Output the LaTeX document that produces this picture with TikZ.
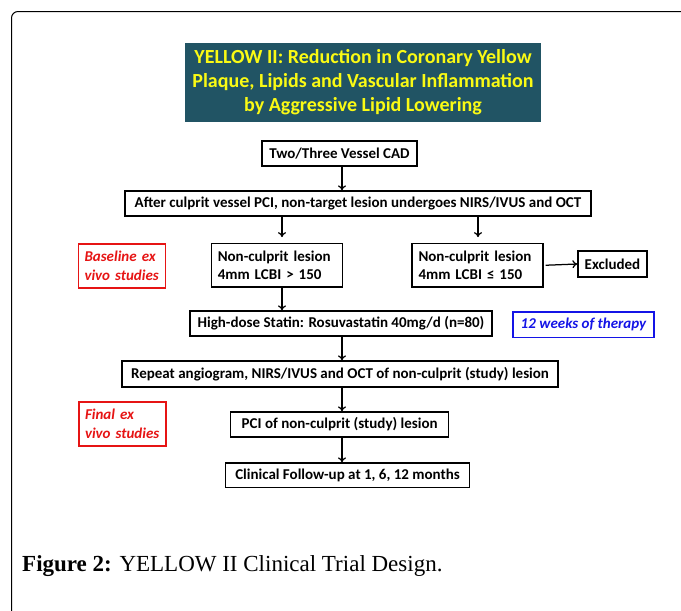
\documentclass[tikz,border=0pt]{standalone}
\usepackage{fontspec}
\setmainfont{Carlito}
\newfontfamily\capf{Liberation Serif}
\usetikzlibrary{arrows.meta}
\definecolor{teal}{RGB}{33,84,100}
\definecolor{ttl}{RGB}{250,250,20}
\definecolor{rd}{RGB}{230,20,20}
\definecolor{bl}{RGB}{20,20,230}
\tikzset{
  bx/.style={draw, line width=1.25pt, inner sep=0pt, font=\fontsize{15}{18}\selectfont\bfseries},
  lbx/.style={bx, align=left},
  rbx/.style={draw=rd, line width=1.5pt, inner sep=0pt, text=rd, align=left,
     font=\fontsize{15}{18.5}\selectfont\bfseries\itshape},
  arr/.style={-{To[length=5pt,width=8pt]}, line width=1.25pt},
}
\begin{document}
\begin{tikzpicture}[x=1pt,y=-1pt]
\useasboundingbox (0,0) rectangle (681,611);
% outer frame
\draw[line width=1pt, rounded corners=6.5pt] (11.5,700) -- (11.5,11.5) -- (700,11.5);
% title
\node[fill=teal, text=ttl, minimum width=356, minimum height=79, inner sep=0pt, align=center,
  font=\fontsize{20}{24}\selectfont\bfseries] (title) at (363,82.5)
  {YELLOW II: Reduction in Coronary Yellow\\Plaque, Lipids and Vascular Inflammation\\by Aggressive Lipid Lowering};
% boxes
\node[bx, minimum width=155, minimum height=25] (cad) at (339.5,153.5) {Two/Three Vessel CAD};
\node[bx, minimum width=466, minimum height=25] (pci) at (358,203.5) {After culprit vessel PCI, non-target lesion undergoes NIRS/IVUS and OCT};
\node[lbx, minimum height=43.5, text width=118, inner xsep=6.5pt] (ncl) at (276.75,265.25) {\mbox{Non-culprit lesion}\\\mbox{4mm LCBI > 150}};
\node[lbx, minimum height=43.5, text width=118, inner xsep=6.5pt] (ncr) at (477.5,265.25) {\mbox{Non-culprit lesion}\\\mbox{4mm LCBI ≤ 150}};
\node[bx, minimum width=69, minimum height=26] (exc) at (612.5,264) {Excluded};
\node[rbx, minimum height=44, text width=75, inner xsep=6pt] (base) at (122,266) {\mbox{Baseline ex}\\\mbox{vivo studies}};
\node[bx, minimum width=302, minimum height=25] (stat) at (341,323.5) {High-dose Statin: Rosuvastatin 40mg/d (n=80)};
\node[draw=bl, line width=1.5pt, inner sep=0pt, text=bl, minimum width=141, minimum height=25.5,
  font=\fontsize{15}{18}\selectfont\bfseries\itshape] (wk) at (583.5,324.75) {12 weeks of therapy};
\node[bx, minimum width=436, minimum height=26] (rep) at (340,374) {Repeat angiogram, NIRS/IVUS and OCT of non-culprit (study) lesion};
\node[rbx, minimum height=44, text width=75, inner xsep=6pt] (fin) at (122.5,424) {\mbox{Final ex}\\\mbox{vivo studies}};
\node[bx, minimum width=218, minimum height=25] (pcin) at (339.7,424.5) {PCI of non-culprit (study) lesion};
\node[bx, minimum width=244, minimum height=24.5] (fu) at (347.5,475.25) {Clinical Follow-up at 1, 6, 12 months};
% arrows
\draw[arr] (cad.south -| 342,0) -- (pci.north -| 342,0);
\draw[arr] (pci.south -| 282,0) -- ++(0,20.5);
\draw[arr] (pci.south -| 478,0) -- ++(0,20.5);
\draw[arr] ([xshift=2pt]ncr.east) -- (exc.west);
\draw[arr] (ncl.south -| 282,0) -- (stat.north -| 282,0);
\draw[arr] (stat.south -| 342,0) -- (rep.north -| 342,0);
\draw[arr] (rep.south -| 342,0) -- (pcin.north -| 342,0);
\draw[arr] (pcin.south -| 342,0) -- (fu.north -| 342,0);
% caption
\node[anchor=base west, inner sep=0pt, font=\capf\fontsize{23}{26}\selectfont] (cap) at (22,571)
  {\textbf{Figure 2:} YELLOW II Clinical Trial Design.};
\end{tikzpicture}
\end{document}
